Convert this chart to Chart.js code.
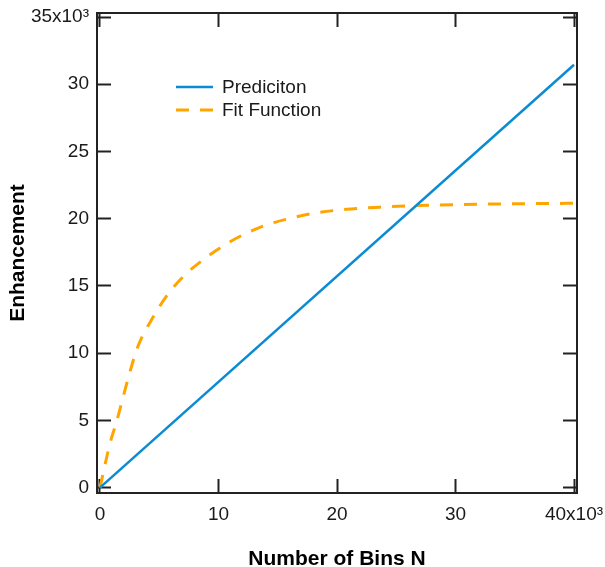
<!DOCTYPE html>
<html>
<head>
<meta charset="utf-8">
<script src="https://cdn.jsdelivr.net/npm/chart.js@4.4.1/dist/chart.umd.min.js"></script>
<style>
  html, body { margin: 0; padding: 0; background: #fff; }
  canvas { display: block; }
</style>
</head>
<body>
<canvas id="enhancementChart" width="605" height="567"></canvas>
<script>
// values
const predictionX = [0, 40000];
const predictionY = [0, 31450];

const fitX = [0, 150, 850, 1400, 2400, 3200, 4500, 5750, 7150, 9100, 10800, 13600, 15900, 18000, 20800, 23600, 26700, 32000, 40000];
const fitY = [0, 600, 3300, 4900, 8200, 10500, 12700, 14400, 15800, 17200, 18200, 19400, 20000, 20400, 20700, 20860, 20980, 21080, 21150];

const xTickValues = [0, 10000, 20000, 30000, 40000];
const xTickLabels = ['0', '10', '20', '30', '40x10³'];
const yTickValues = [0, 5000, 10000, 15000, 20000, 25000, 30000, 35000];
const yTickLabels = ['0', '5', '10', '15', '20', '25', '30', '35x10³'];

const COLORS = {
    blue: '#0a8bd2',
    orange: '#ffa500',
    axis: '#222222',
    text: '#1a1a1a'
};

const FONT = "'Liberation Sans', Arial, sans-serif";

const toPoints = (xs, ys) => xs.map((x, i) => ({ x: x, y: ys[i] }));

const setTicks = (values) => (scale) => {
    scale.ticks = values.map(v => ({ value: v }));
};

// fixed box size, and no extra room for overhanging labels
const fixSize = (prop, size) => (scale) => {
    scale[prop] = size;
    scale.paddingTop = 0;
    scale.paddingBottom = 0;
    scale.paddingLeft = 0;
    scale.paddingRight = 0;
};

const tickGrid = {
    drawOnChartArea: false,
    drawTicks: true,
    tickLength: -14,
    tickWidth: 2,
    tickColor: COLORS.axis
};

const frameBorder = { display: true, color: COLORS.axis, width: 2 };

// legend drawn inside the plot area, next to the top-left corner
const insideLegend = {
    id: 'insideLegend',
    afterDraw(chart) {
        const { ctx, chartArea } = chart;
        const x0 = chartArea.left + 79;
        const y0 = chartArea.top + 74;
        ctx.save();
        ctx.font = '19px ' + FONT;
        ctx.textBaseline = 'middle';
        ctx.textAlign = 'left';
        chart.data.datasets.forEach((ds, i) => {
            const y = y0 + i * 23;
            ctx.beginPath();
            ctx.setLineDash(ds.borderDash || []);
            ctx.lineWidth = ds.borderWidth;
            ctx.strokeStyle = ds.borderColor;
            ctx.moveTo(x0, y);
            ctx.lineTo(x0 + 37, y);
            ctx.stroke();
            ctx.setLineDash([]);
            ctx.fillStyle = COLORS.text;
            ctx.fillText(ds.label, x0 + 46, y + 1);
        });
        ctx.restore();
    }
};

const ctx = document.getElementById('enhancementChart').getContext('2d');

new Chart(ctx, {
    type: 'line',
    data: {
        datasets: [{
            label: 'Prediciton',
            data: toPoints(predictionX, predictionY),
            borderColor: COLORS.blue,
            borderWidth: 2.5,
            pointRadius: 0,
            fill: false
        }, {
            label: 'Fit Function',
            data: toPoints(fitX, fitY),
            borderColor: COLORS.orange,
            borderWidth: 3,
            borderDash: [13, 11],
            pointRadius: 0,
            cubicInterpolationMode: 'monotone',
            fill: false
        }]
    },
    options: {
        responsive: false,
        animation: false,
        layout: { padding: 0 },
        scales: {
            x: {
                type: 'linear',
                position: 'bottom',
                min: -250,
                max: 40250,
                afterBuildTicks: setTicks(xTickValues),
                afterFit: fixSize('height', 74),
                grid: tickGrid,
                border: frameBorder,
                ticks: {
                    color: COLORS.text,
                    font: { family: FONT, size: 19 },
                    padding: 24,
                    maxRotation: 0,
                    autoSkip: false,
                    callback: (v) => xTickLabels[xTickValues.indexOf(v)]
                },
                title: {
                    display: true,
                    text: 'Number of Bins N',
                    color: '#000',
                    font: { family: FONT, size: 21, weight: 'bold' },
                    padding: { top: 0, bottom: -5 }
                }
            },
            x2: {
                type: 'linear',
                position: 'top',
                min: -250,
                max: 40250,
                afterBuildTicks: setTicks(xTickValues),
                afterFit: fixSize('height', 13),
                grid: tickGrid,
                border: frameBorder,
                ticks: { display: false }
            },
            y: {
                type: 'linear',
                position: 'left',
                min: -400,
                max: 35300,
                afterBuildTicks: setTicks(yTickValues),
                afterFit: fixSize('width', 97),
                grid: tickGrid,
                border: frameBorder,
                ticks: {
                    color: COLORS.text,
                    font: { family: FONT, size: 19 },
                    padding: 22,
                    autoSkip: false,
                    callback: (v) => yTickLabels[yTickValues.indexOf(v)]
                },
                title: {
                    display: true,
                    text: 'Enhancement',
                    color: '#000',
                    font: { family: FONT, size: 21, weight: 'bold' },
                    padding: { top: 6, bottom: 0 }
                }
            },
            y2: {
                type: 'linear',
                position: 'right',
                min: -400,
                max: 35300,
                afterBuildTicks: setTicks(yTickValues),
                afterFit: fixSize('width', 28),
                grid: tickGrid,
                border: frameBorder,
                ticks: { display: false }
            }
        },
        plugins: {
            legend: { display: false },
            tooltip: { enabled: false }
        }
    },
    plugins: [insideLegend]
});
</script>
</body>
</html>
